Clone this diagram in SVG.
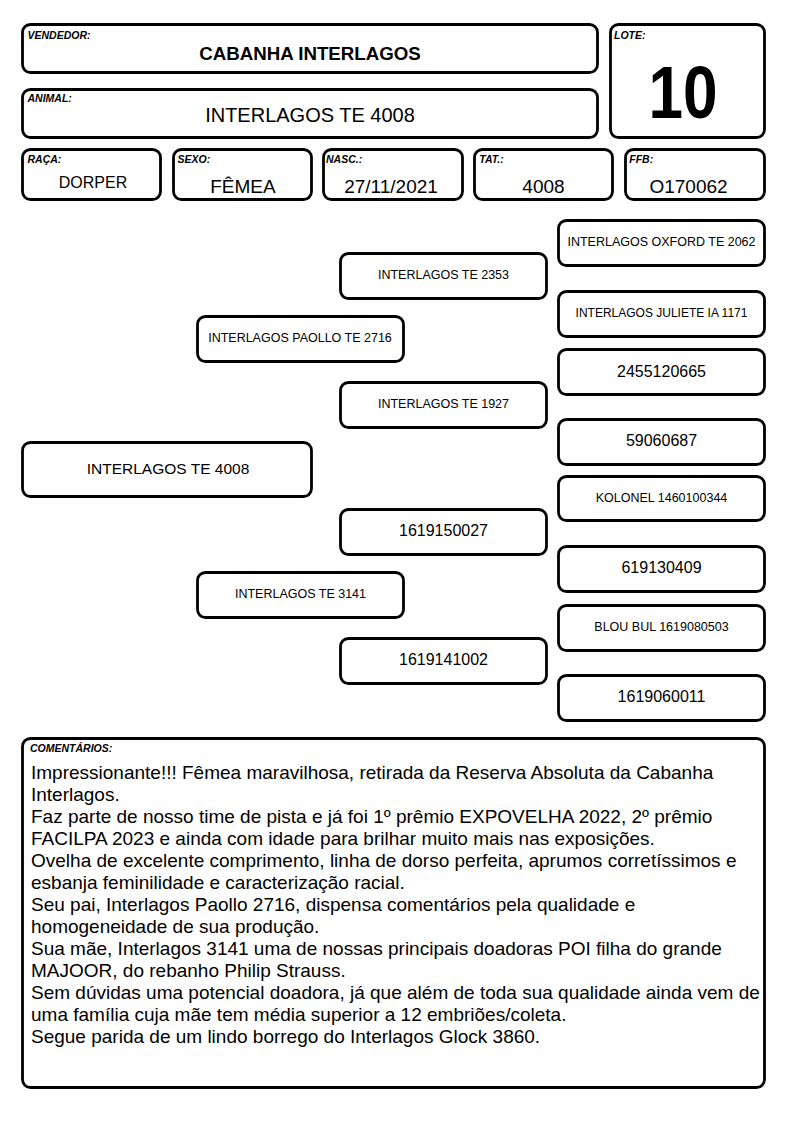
<svg xmlns="http://www.w3.org/2000/svg" width="794" height="1123" viewBox="0 0 794 1123">
<style>
.b{fill:#fff;stroke:#000;stroke-width:2.8}
.lbl{font-family:"Liberation Sans",Arial,sans-serif;font-weight:bold;font-style:italic;font-size:10.5px;fill:#000}
.t{font-family:"Liberation Sans",Arial,sans-serif;fill:#000;text-anchor:middle}
.n{font-size:12.5px}
.d{font-size:16px}
.v{font-size:19px}
.c{font-family:"Liberation Sans",Arial,sans-serif;font-size:19px;fill:#000}
</style>
<rect width="794" height="1123" fill="#fff"/>
<g id="vendedor">
<rect class="b" x="22.5" y="24.5" width="575" height="48" rx="8"/>
<text class="lbl" x="27.5" y="38.5">VENDEDOR:</text>
<text class="t" x="310" y="59.7" font-weight="bold" font-size="18.7">CABANHA INTERLAGOS</text>
</g>
<g id="animal">
<rect class="b" x="22.5" y="89.5" width="575" height="48" rx="8"/>
<text class="lbl" x="27.5" y="101.5">ANIMAL:</text>
<text class="t" x="310" y="122.3" font-size="20">INTERLAGOS TE 4008</text>
</g>
<g id="lote">
<rect class="b" x="610.5" y="24.5" width="154" height="113" rx="8"/>
<text class="lbl" x="614" y="38.5">LOTE:</text>
<text class="t" transform="translate(683,118) scale(0.84,1)" x="0" y="0" font-weight="bold" font-size="74">10</text>
</g>
<g id="raca">
<rect class="b" x="22.5" y="149.5" width="138" height="50" rx="8"/>
<text class="lbl" x="27.5" y="163">RAÇA:</text>
<text class="t d" x="93" y="188">DORPER</text>
</g>
<g id="sexo">
<rect class="b" x="173.5" y="149.5" width="138" height="50" rx="8"/>
<text class="lbl" x="177.5" y="163">SEXO:</text>
<text class="t v" x="243" y="193.3">FÊMEA</text>
</g>
<g id="nasc">
<rect class="b" x="323.5" y="149.5" width="139" height="50" rx="8"/>
<text class="lbl" x="326" y="163">NASC.:</text>
<text class="t v" x="391" y="193.3">27/11/2021</text>
</g>
<g id="tat">
<rect class="b" x="474.5" y="149.5" width="138" height="50" rx="8"/>
<text class="lbl" x="479.3" y="163">TAT.:</text>
<text class="t v" x="543.5" y="193.3">4008</text>
</g>
<g id="ffb">
<rect class="b" x="625.5" y="149.5" width="139" height="50" rx="8"/>
<text class="lbl" x="629.3" y="163">FFB:</text>
<text class="t v" x="688.5" y="193.3">O170062</text>
</g>
<g id="p-main">
<rect class="b" x="22.5" y="442.5" width="289" height="54" rx="8"/>
<text class="t" x="168" y="473.6" font-size="15.5">INTERLAGOS TE 4008</text>
</g>
<g id="p-sire">
<rect class="b" x="197.5" y="316.5" width="206" height="45" rx="8"/>
<text class="t n" x="300" y="342">INTERLAGOS PAOLLO TE 2716</text>
</g>
<g id="p-dam">
<rect class="b" x="197.5" y="572.5" width="206" height="45" rx="8"/>
<text class="t n" x="300.5" y="598">INTERLAGOS TE 3141</text>
</g>
<g id="p-ss">
<rect class="b" x="340.5" y="253.5" width="206" height="45" rx="8"/>
<text class="t n" x="443.5" y="279">INTERLAGOS TE 2353</text>
</g>
<g id="p-sd">
<rect class="b" x="340.5" y="382.5" width="206" height="45" rx="8"/>
<text class="t n" x="443.5" y="408">INTERLAGOS TE 1927</text>
</g>
<g id="p-ds">
<rect class="b" x="340.5" y="509.5" width="206" height="45" rx="8"/>
<text class="t d" x="443.5" y="536.3">1619150027</text>
</g>
<g id="p-dd">
<rect class="b" x="340.5" y="638.5" width="206" height="45" rx="8"/>
<text class="t d" x="443.5" y="665.3">1619141002</text>
</g>
<g id="p-sss">
<rect class="b" x="558.5" y="220.5" width="206" height="45" rx="8"/>
<text class="t n" x="661.5" y="246.3">INTERLAGOS OXFORD TE 2062</text>
</g>
<g id="p-ssd">
<rect class="b" x="558.5" y="291.5" width="206" height="45" rx="8"/>
<text class="t" x="661.5" y="317" font-size="12">INTERLAGOS JULIETE IA 1171</text>
</g>
<g id="p-sds">
<rect class="b" x="558.5" y="349.5" width="206" height="45" rx="8"/>
<text class="t d" x="661.5" y="376.5">2455120665</text>
</g>
<g id="p-sdd">
<rect class="b" x="558.5" y="419.5" width="206" height="45" rx="8"/>
<text class="t d" x="661.5" y="446.3">59060687</text>
</g>
<g id="p-dss">
<rect class="b" x="558.5" y="476.5" width="206" height="44" rx="8"/>
<text class="t n" x="661.5" y="501.5">KOLONEL 1460100344</text>
</g>
<g id="p-dsd">
<rect class="b" x="558.5" y="546.5" width="206" height="45" rx="8"/>
<text class="t d" x="661.5" y="573.3">619130409</text>
</g>
<g id="p-dds">
<rect class="b" x="558.5" y="605.5" width="206" height="45" rx="8"/>
<text class="t n" x="661.5" y="631">BLOU BUL 1619080503</text>
</g>
<g id="p-ddd">
<rect class="b" x="558.5" y="675.5" width="206" height="45" rx="8"/>
<text class="t d" x="661.5" y="702.3">1619060011</text>
</g>
<g id="comentarios">
<rect class="b" x="22.5" y="738.5" width="742" height="349" rx="8"/>
<text class="lbl" x="30" y="752.3">COMENTÁRIOS:</text>
<text class="c" x="31" y="779">Impressionante!!! Fêmea maravilhosa, retirada da Reserva Absoluta da Cabanha</text>
<text class="c" x="31" y="801">Interlagos.</text>
<text class="c" x="31" y="823">Faz parte de nosso time de pista e já foi 1º prêmio EXPOVELHA 2022, 2º prêmio</text>
<text class="c" x="31" y="845">FACILPA 2023 e ainda com idade para brilhar muito mais nas exposições.</text>
<text class="c" x="31" y="867">Ovelha de excelente comprimento, linha de dorso perfeita, aprumos corretíssimos e</text>
<text class="c" x="31" y="889">esbanja feminilidade e caracterização racial.</text>
<text class="c" x="31" y="911">Seu pai, Interlagos Paollo 2716, dispensa comentários pela qualidade e</text>
<text class="c" x="31" y="933">homogeneidade de sua produção.</text>
<text class="c" x="31" y="955">Sua mãe, Interlagos 3141 uma de nossas principais doadoras POI filha do grande</text>
<text class="c" x="31" y="977">MAJOOR, do rebanho Philip Strauss.</text>
<text class="c" x="31" y="999">Sem dúvidas uma potencial doadora, já que além de toda sua qualidade ainda vem de</text>
<text class="c" x="31" y="1021">uma família cuja mãe tem média superior a 12 embriões/coleta.</text>
<text class="c" x="31" y="1043">Segue parida de um lindo borrego do Interlagos Glock 3860.</text>
</g>
</svg>
